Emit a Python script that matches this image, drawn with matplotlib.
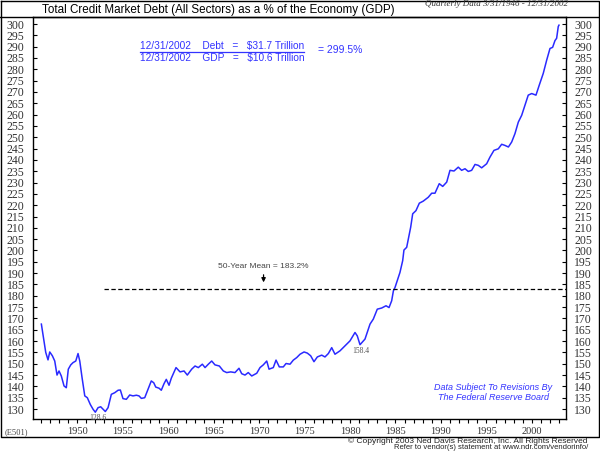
import numpy as np
import matplotlib
matplotlib.use("Agg")
import matplotlib.pyplot as plt
from matplotlib.lines import Line2D

# decimal year / % of GDP
years = [1946.08, 1946.37, 1946.56, 1946.81, 1947.00, 1947.29, 1947.55, 1947.80,
         1948.02, 1948.27, 1948.57, 1948.82, 1949.04, 1949.31, 1949.56, 1949.86,
         1950.11, 1950.30, 1950.55, 1950.85, 1951.13, 1951.46, 1951.76, 1952.01,
         1952.31, 1952.60, 1952.86, 1953.11, 1953.41, 1953.77, 1954.14, 1954.51,
         1954.76, 1955.05, 1955.42, 1955.79, 1956.15, 1956.52, 1956.81, 1957.07,
         1957.44, 1957.80, 1958.16, 1958.43, 1958.65, 1959.01, 1959.26, 1959.56,
         1959.81, 1960.11, 1960.36, 1960.88, 1961.32, 1961.76, 1962.12, 1962.60,
         1962.97, 1963.33, 1963.77, 1964.07, 1964.43, 1964.80, 1965.16, 1965.64,
         1966.08, 1966.45, 1966.89, 1967.36, 1967.80, 1968.10, 1968.46, 1968.82,
         1969.20, 1969.75, 1970.11, 1970.47, 1970.85, 1971.10, 1971.57, 1971.87,
         1972.23, 1972.67, 1972.97, 1973.41, 1973.77, 1974.14, 1974.51, 1974.95,
         1975.31, 1975.68, 1976.04, 1976.41, 1976.89, 1977.25, 1977.62, 1977.99,
         1978.35, 1978.90, 1979.45, 1980.00, 1980.55, 1980.80, 1981.10, 1981.65,
         1982.20, 1982.56, 1983.00, 1983.48, 1983.96, 1984.29, 1984.58, 1984.77,
         1984.95, 1985.49, 1985.79, 1985.93, 1986.23, 1986.48, 1986.67, 1986.89,
         1987.25, 1987.62, 1988.05, 1988.60, 1988.98, 1989.34, 1989.81, 1990.19,
         1990.63, 1990.99, 1991.43, 1991.90, 1992.27, 1992.64, 1993.00, 1993.37,
         1993.74, 1994.10, 1994.47, 1995.02, 1995.38, 1995.82, 1996.30, 1996.67,
         1997.03, 1997.41, 1997.77, 1998.13, 1998.50, 1998.87, 1999.23, 1999.59,
         1999.97, 2000.44, 2000.80, 2001.24, 2001.62, 2001.98, 2002.27, 2002.53,
         2002.71, 2002.89, 2002.97]
pct = [167.5, 160.1, 155.0, 151.7, 155.2, 153.5, 151.2, 145.0,
       146.8, 144.6, 140.2, 139.4, 147.6, 149.5, 150.5, 151.2,
       154.5, 151.2, 143.9, 135.8, 135.0, 132.0, 129.9, 128.6,
       130.6, 131.0, 129.9, 128.9, 130.6, 136.5, 137.2, 138.3,
       138.4, 134.6, 134.3, 136.2, 135.8, 136.1, 135.8, 134.7,
       135.0, 138.7, 142.4, 141.6, 139.7, 139.2, 138.3, 141.2,
       143.1, 140.5, 143.6, 148.3, 146.4, 146.8, 145.0, 147.6,
       149.0, 148.3, 149.8, 148.3, 149.8, 151.2, 149.5, 149.0,
       146.8, 146.1, 146.4, 146.1, 148.0, 145.6, 145.0, 146.1,
       144.6, 145.8, 148.3, 149.5, 151.2, 147.6, 148.3, 151.6,
       148.6, 148.6, 150.1, 149.8, 151.6, 152.7, 154.2, 155.2,
       154.7, 153.5, 150.9, 153.0, 153.8, 153.0, 154.5, 157.1,
       154.2, 155.7, 157.9, 160.1, 163.8, 162.3, 158.4, 160.9,
       167.5, 169.7, 174.1, 174.6, 175.6, 174.8, 177.8, 182.2,
       183.7, 190.3, 195.5, 200.2, 201.4, 206.6, 210.3, 216.2,
       217.6, 220.9, 221.8, 223.5, 225.3, 225.3, 229.5, 228.3,
       230.2, 235.4, 235.1, 236.8, 235.4, 236.1, 234.9, 235.4,
       238.0, 237.6, 236.5, 238.3, 241.2, 244.2, 244.9, 246.9,
       246.4, 245.7, 247.9, 251.6, 256.7, 259.7, 264.1, 268.6,
       269.3, 268.6, 273.0, 278.2, 284.1, 289.2, 289.7, 292.7,
       293.7, 298.9, 299.5]

mean_val = 183.2
mean_start = 1952.97
low1 = (1952.01, 128.6)
low2 = (1981.10, 158.4)

ytick_vals = list(range(130, 301, 5))
xtick_years = list(range(1950, 2001, 5))
minor_years = list(range(1946, 2004))

W, H = 600, 451
fig = plt.figure(figsize=(6, 4.51), dpi=100)

def fx(px):
    return px / W

def fy(py):
    return 1 - py / H

L, R, T, B = 33, 566, 17, 419
ax = fig.add_axes([fx(L), fy(B), fx(R) - fx(L), fy(T) - fy(B)])
ax.plot(years, pct, color="#2a2aff", lw=1.1)
ax.set_xlim(1945.16, 2003.74)
ax.set_ylim(125.6, 303.1)

ax.hlines(mean_val, mean_start, 2003.74, colors="black", linestyles=(0, (3.5, 2)), lw=0.9)

serif = "Liberation Serif"
ax.set_yticks(ytick_vals)
ax.set_yticklabels([str(v) for v in ytick_vals])
ax.tick_params(axis="y", which="both", direction="in", length=3, width=0.8,
               left=True, right=True, labelleft=True, labelright=True,
               labelsize=8.5, labelcolor="#333333", pad=6)
for lab in ax.get_yticklabels():
    lab.set_fontfamily(serif)

ax.set_xticks(xtick_years)
ax.set_xticks(minor_years, minor=True)
ax.set_xticklabels([str(y) for y in xtick_years])
ax.tick_params(axis="x", which="both", direction="out", length=3, width=0.8,
               labelsize=7.5, labelcolor="#333333", pad=3)
for lab in ax.get_xticklabels():
    lab.set_fontfamily(serif)
for s in ax.spines.values():
    s.set_linewidth(1.0)

# annotations on the chart
ax.annotate("", xy=(1970.5, mean_val + 1.5), xytext=(1970.5, 190.5),
            arrowprops=dict(arrowstyle="-|>", color="black", lw=0.9, mutation_scale=6))
ax.text(1970.5, 191.5, "50-Year Mean = 183.2%", ha="center", va="bottom",
        fontsize=6, color="#444444", family="Liberation Sans")
ax.text(low1[0] + 0.3, low1[1] - 0.6, "128.6", ha="center", va="top",
        fontsize=5.5, color="#555555", family=serif)
ax.text(low2[0] + 0.1, low2[1] - 1.2, "158.4", ha="center", va="top",
        fontsize=5.5, color="#555555", family=serif)

blue = "#3333ff"
fig.text(fx(140), fy(46), "12/31/2002    Debt   =   $31.7 Trillion", color=blue,
         fontsize=7.3, family="Liberation Sans", va="center", ha="left")
fig.text(fx(140), fy(57.5), "12/31/2002    GDP   =   $10.6 Trillion", color=blue,
         fontsize=7.3, family="Liberation Sans", va="center", ha="left")
fig.add_artist(Line2D([fx(140), fx(304)], [fy(51.5), fy(51.5)], color=blue, lw=0.9))
fig.text(fx(318), fy(50), "= 299.5%", color=blue, fontsize=7.5,
         family="Liberation Sans", va="center", ha="left")

fig.text(fx(493), fy(388), "Data Subject To Revisions By", color=blue, fontsize=6.5,
         style="italic", family="Liberation Sans", ha="center", va="center")
fig.text(fx(493), fy(398), "The Federal Reserve Board", color=blue, fontsize=6.5,
         style="italic", family="Liberation Sans", ha="center", va="center")

# header
fig.text(fx(42), fy(9.5), "Total Credit Market Debt (All Sectors) as a % of the Economy (GDP)",
         fontsize=8.4, family="Liberation Sans", ha="left", va="center")
fig.text(fx(568), fy(4.5), "Quarterly Data 3/31/1946 - 12/31/2002", fontsize=6.5,
         family=serif, style="italic", ha="right", va="center", color="#333333")

# frame
frame = dict(color="black", lw=1.0)
fig.add_artist(Line2D([0.001, 0.999, 0.999, 0.001, 0.001],
                      [fy(0.5), fy(0.5), fy(437), fy(437), fy(0.5)], **frame))
fig.add_artist(Line2D([0, 1], [fy(T), fy(T)], **frame))

fig.text(fx(5), fy(432), "(E501)", fontsize=6, family=serif, color="#444444",
         ha="left", va="center")
fig.text(fx(588), fy(441.5), "\u00a9 Copyright 2003 Ned Davis Research, Inc. All Rights Reserved",
         fontsize=6, family="Liberation Sans", ha="right", va="center", color="#222222")
fig.text(fx(588), fy(447.5), "Refer to vendor(s) statement at www.ndr.com/vendorinfo/",
         fontsize=5.5, family="Liberation Sans", ha="right", va="center", color="#222222")

fig.savefig("out.png", dpi=100)
